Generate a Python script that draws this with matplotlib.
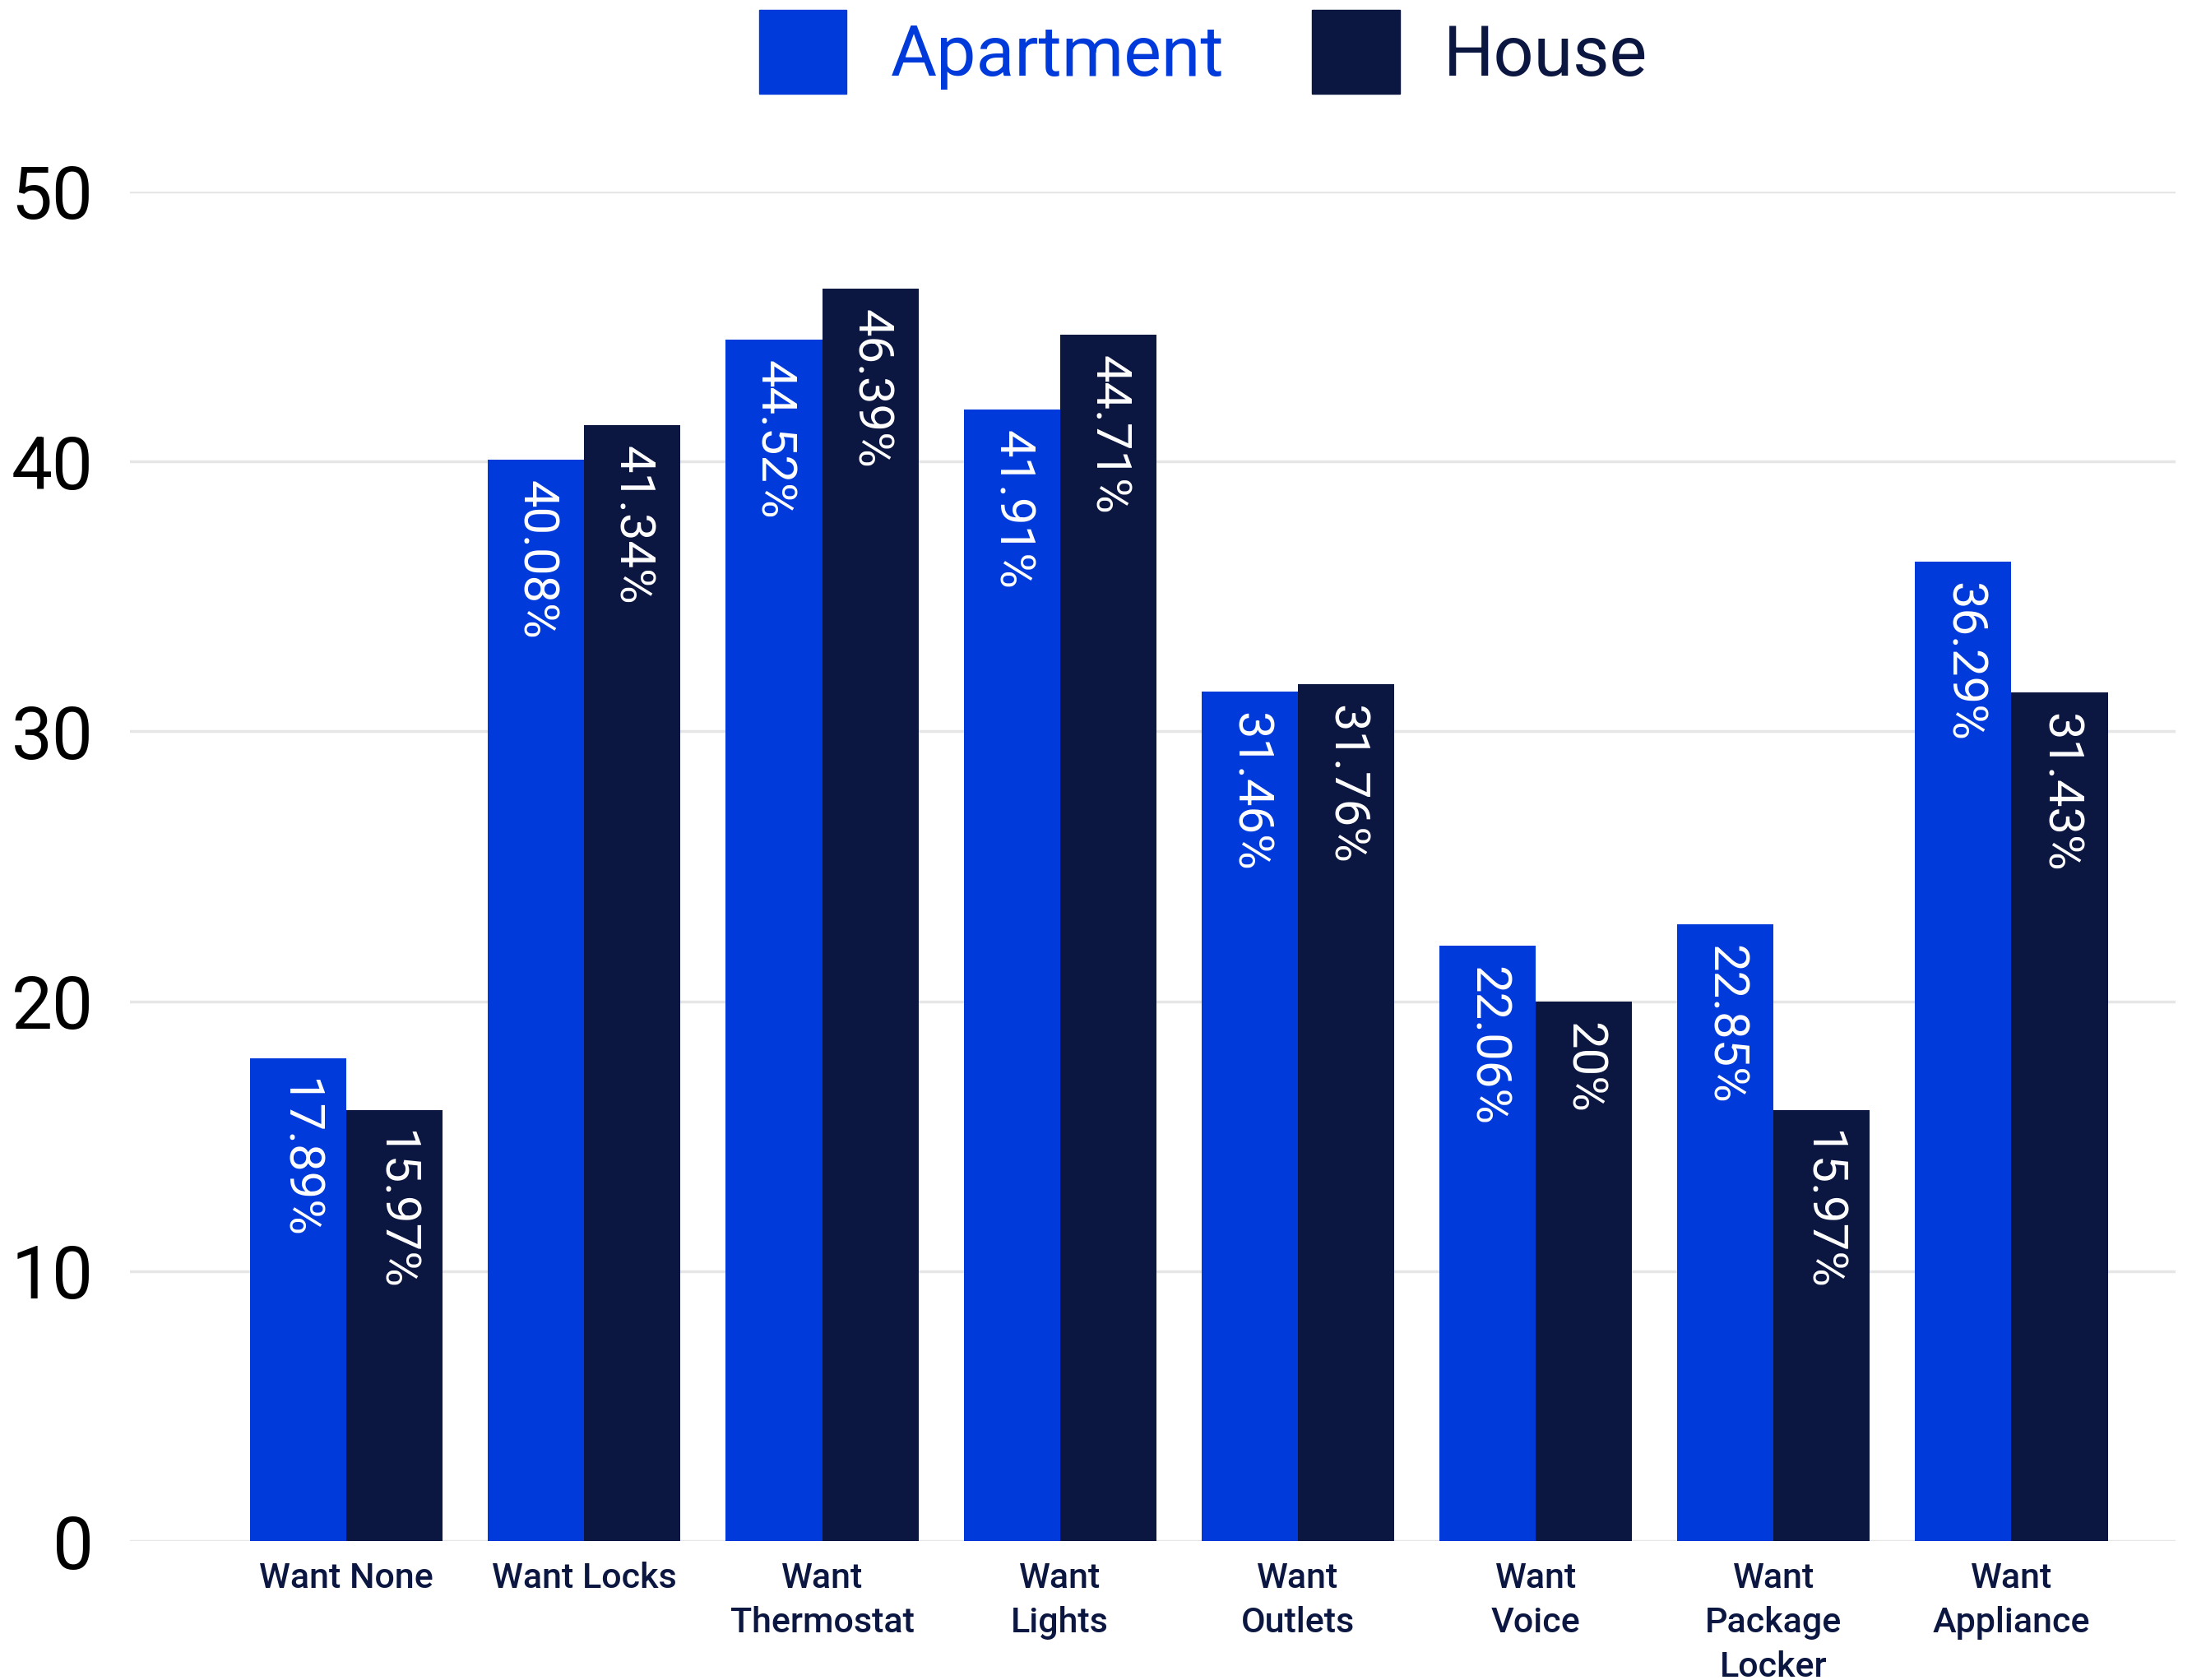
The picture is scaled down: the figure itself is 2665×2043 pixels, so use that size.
import numpy as np
import matplotlib.pyplot as plt
from matplotlib.patches import Patch

categories = ["Want None", "Want Locks", "Want\nThermostat", "Want\nLights", "Want\nOutlets",
              "Want\nVoice", "Want\nPackage\nLocker", "Want\nAppliance"]
apartment = [17.89, 40.08, 44.52, 41.91, 31.46, 22.06, 22.85, 36.29]
house = [15.97, 41.34, 46.39, 44.71, 31.76, 20, 15.97, 31.43]
series_names = ["Apartment", "House"]

blue = "#003ADB"
navy = "#0B1641"

fig = plt.figure(figsize=(26.65, 20.43), dpi=100)
ax = fig.add_axes([0.0593, 0.0827, 0.9332, 0.8033])

x = np.arange(len(categories))
w = 0.405
bars_a = ax.bar(x - w / 2, apartment, w, color=blue, zorder=2)
bars_h = ax.bar(x + w / 2, house, w, color=navy, zorder=2)

# value labels inside bars, rotated, near the top
for bars, vals in [(bars_a, apartment), (bars_h, house)]:
    for b, v in zip(bars, vals):
        ax.annotate(f"{v:g}%", (b.get_x() + b.get_width() / 2, v), xytext=(0, -18),
                    textcoords="offset points", rotation=270, ha="center", va="top",
                    color="white", fontsize=43, family=["Roboto", "DejaVu Sans"])

ax.set_xlim(-0.91, 7.69)
ax.set_ylim(0, 50)
ax.set_yticks([0, 10, 20, 30, 40, 50])
ax.grid(axis="y", color="#E6E6E6", linewidth=2.5, zorder=0)
ax.set_axisbelow(True)
for s in ax.spines.values():
    s.set_visible(False)
ax.tick_params(axis="y", length=0, pad=32, labelsize=64, labelcolor="black")
ax.tick_params(axis="x", length=0, pad=18)
for t in ax.get_yticklabels():
    t.set_family(["Roboto", "DejaVu Sans"])

ax.set_xticks(x)
ax.set_xticklabels(categories, fontsize=31, color=navy, fontweight="medium",
                   family=["Roboto", "DejaVu Sans"], linespacing=1.4)

handles = [Patch(color=blue), Patch(color=navy)]
leg = fig.legend(handles, series_names, loc="upper center", bbox_to_anchor=(0.549, 1.032), ncol=2,
                 frameon=False, handlelength=1.24, handleheight=1.45,
                 handletextpad=0.62, columnspacing=1.24,
                 prop={"family": ["Roboto", "DejaVu Sans"], "size": 62})
for txt, c in zip(leg.get_texts(), [blue, navy]):
    txt.set_color(c)

fig.savefig("out.png", dpi=100)
